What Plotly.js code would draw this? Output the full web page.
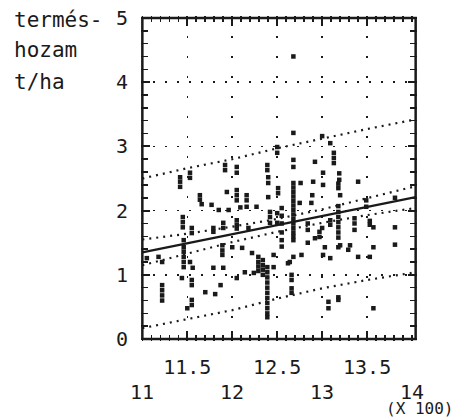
<!DOCTYPE html>
<html>
<head>
<meta charset="utf-8">
<script src="https://cdn.plot.ly/plotly-3.0.1.min.js"></script>
<style>html,body{margin:0;padding:0;background:#fff;}#chart{width:458px;height:419px;}</style>
</head>
<body>
<div id="chart"></div>
<script>
// Scatter observations (x in hundreds, y in t/ha)
var obsX = [12.68,12.68,13.00,13.09,12.50,12.50,13.13,13.13,13.13,11.92,11.92,12.05,12.05,12.39,12.39,12.68,12.68,12.92,
  11.42,11.42,11.42,11.53,11.53,13.01,13.19,13.19,13.40,12.40,12.40,12.90,12.51,12.51,11.94,12.05,12.05,12.05,12.16,12.16,
  11.64,11.64,12.40,
  12.68,12.68,12.68,12.68,12.68,12.68,12.68,12.68,12.68,12.68,12.68,12.68,12.68,12.68,
  12.76,12.89,13.01,13.18,13.18,13.20,11.66,11.77,11.85,11.96,12.09,12.16,12.27,
  11.45,11.45,11.45,11.55,11.55,11.79,11.79,11.90,11.90,12.05,12.05,12.05,12.18,12.42,12.42,12.42,12.50,12.50,
  12.55,12.55,12.55,12.55,12.55,12.55,12.75,12.88,12.84,12.84,13.00,12.97,12.97,13.09,13.09,
  13.18,13.18,13.18,13.18,13.18,13.18,13.18,13.36,13.36,13.36,13.49,13.49,13.53,13.53,13.57,13.81,13.81,13.81,
  13.57,13.53,13.40,13.20,13.29,13.31,13.09,13.01,13.03,13.18,12.92,12.84,12.77,12.68,12.62,12.46,12.46,
  12.29,12.29,12.29,12.29,12.34,12.34,12.34,12.34,
  12.39,12.39,12.39,12.39,12.39,12.39,12.39,12.39,12.39,12.39,12.39,
  11.46,11.46,11.46,11.46,11.46,11.46,11.53,11.56,11.79,11.90,11.89,11.89,11.89,12.00,12.11,12.22,
  11.05,11.18,11.22,11.22,11.22,11.22,11.22,11.44,11.55,11.55,11.55,11.55,11.70,11.81,11.87,12.05,12.14,12.24,
  12.64,12.66,12.66,12.66,12.66,13.07,13.07,13.18,13.18,13.57,11.50];
var obsY = [4.40,3.21,3.16,3.05,2.99,2.90,2.90,2.82,2.74,2.71,2.63,2.68,2.59,2.71,2.63,2.79,2.68,2.76,
  2.52,2.45,2.37,2.59,2.51,2.59,2.58,2.48,2.45,2.52,2.43,2.45,2.35,2.27,2.29,2.32,2.24,2.16,2.24,2.16,
  2.24,2.17,2.21,
  2.43,2.36,2.29,2.22,2.15,2.08,2.01,1.94,1.87,1.80,1.73,1.66,1.60,1.54,
  2.43,2.24,2.40,2.42,2.35,2.24,2.10,2.09,2.01,2.01,2.05,2.06,2.06,
  1.90,1.82,1.74,1.73,1.65,1.73,1.67,1.81,1.73,1.85,1.78,1.72,1.73,1.98,1.90,1.81,1.96,1.81,
  2.04,1.92,1.80,1.66,1.54,1.44,2.12,2.12,1.80,1.70,1.73,1.67,1.59,1.85,1.78,
  2.07,1.98,1.90,1.82,1.74,1.66,1.58,1.88,1.80,1.70,2.16,2.06,1.84,1.78,1.74,2.20,1.74,1.47,
  1.43,1.28,1.28,1.46,1.39,1.46,1.26,1.31,1.43,1.43,1.57,1.50,1.31,1.28,1.18,1.31,1.12,
  1.28,1.20,1.13,1.06,1.23,1.15,1.08,1.00,
  1.12,1.04,0.96,0.88,0.80,0.72,0.64,0.56,0.48,0.40,0.34,
  1.54,1.43,1.36,1.28,1.20,1.12,1.20,1.11,1.11,1.11,1.46,1.38,1.31,1.43,1.42,1.34,
  1.26,1.28,1.20,0.84,0.76,0.68,0.60,0.95,0.92,0.84,0.61,0.53,0.73,0.70,0.84,0.95,1.04,1.03,
  1.20,1.00,0.92,0.79,0.72,0.58,0.48,0.65,0.61,0.48,0.48];

// Fitted line and bands, read at these x positions
var bandX      = [11, 11.5, 12, 12.5, 13, 13.5, 14.04];
var fitY       = [1.35, 1.49, 1.63, 1.78, 1.92, 2.06, 2.21];
var innerUpper = [1.55, 1.64, 1.75, 1.87, 2.02, 2.19, 2.38];
var innerLower = [1.15, 1.33, 1.51, 1.67, 1.81, 1.93, 2.04];
var outerUpper = [2.50, 2.66, 2.80, 2.97, 3.12, 3.27, 3.42];
var outerLower = [0.17, 0.31, 0.45, 0.63, 0.79, 0.92, 1.04];

// Tick labels
var xTickTop = [11.5, 12, 12.5, 13, 13.5];
var xTickTopText = ['11.5', '', '12.5', '', '13.5'];
var xTickLow = [11, 12, 13, 14];
var xTickLowText = ['11', '12', '13', '14'];
var yTicks = [0, 1, 2, 3, 4, 5];
var yTickText = ['0', '1', '2', '3', '4', '5'];

// Frame extent (data units) and a small pad so the frame sits just inside the plot area
var frameX = [11, 14.04];
var frameY = [0, 5];
var padX = 0.015, padY = 0.03;

var FONT = 'DejaVu Sans Mono, Liberation Mono, monospace';
var INK = '#1a1a1a';

function dotted(y) {
  return {x: bandX, y: y, mode: 'lines', type: 'scatter', hoverinfo: 'skip',
    line: {color: INK, width: 2.2, dash: '2px,5px'}, showlegend: false};
}

var traces = [
  dotted(outerUpper), dotted(outerLower), dotted(innerUpper), dotted(innerLower),
  {x: bandX, y: fitY, mode: 'lines', type: 'scatter', line: {color: INK, width: 2.2}, showlegend: false},
  {x: obsX, y: obsY, mode: 'markers', type: 'scatter', showlegend: false,
   marker: {symbol: 'square', size: 4.5, color: INK, line: {width: 0}}},
  {x: [frameX[0], frameX[1], frameX[1], frameX[0], frameX[0]],
   y: [frameY[0], frameY[0], frameY[1], frameY[1], frameY[0]],
   mode: 'lines', type: 'scatter', hoverinfo: 'skip', showlegend: false,
   line: {color: INK, width: 2.5}}
];

// plot area spans x 141..417, y 16..341 in page pixels
function px(p) { return (p - 141) / 276; }
function py(p) { return (341 - p) / 325; }

var annotations = [
  {xref: 'paper', yref: 'paper', x: px(12), y: py(20), xanchor: 'left', yanchor: 'middle',
   text: 'termés-', showarrow: false, font: {family: FONT, size: 21, color: INK}},
  {xref: 'paper', yref: 'paper', x: px(12), y: py(50), xanchor: 'left', yanchor: 'middle',
   text: 'hozam', showarrow: false, font: {family: FONT, size: 21, color: INK}},
  {xref: 'paper', yref: 'paper', x: px(12), y: py(82), xanchor: 'left', yanchor: 'middle',
   text: 't/ha', showarrow: false, font: {family: FONT, size: 21, color: INK}},
  {xref: 'paper', yref: 'paper', x: px(455), y: py(409), xanchor: 'right', yanchor: 'middle',
   text: '(X 100)', showarrow: false, font: {family: FONT, size: 16, color: INK}}
];
xTickLow.forEach(function (v, i) {
  annotations.push({xref: 'x', yref: 'paper', x: v, y: py(392), xanchor: 'center', yanchor: 'middle',
    text: xTickLowText[i], showarrow: false, font: {family: FONT, size: 20, color: INK}});
});

var layout = {
  width: 458, height: 419,
  margin: {l: 141, r: 41, t: 16, b: 78},
  paper_bgcolor: '#fff', plot_bgcolor: '#fff',
  font: {family: FONT, size: 20, color: INK},
  showlegend: false,
  xaxis: {
    range: [frameX[0] - padX, frameX[1] + padX], tickmode: 'array', tickvals: xTickTop, ticktext: xTickTopText,
    ticks: 'inside', ticklen: 10, tickwidth: 2, tickcolor: INK,
    minor: {ticks: 'inside', dtick: 0.1, ticklen: 6, tickwidth: 1.6, tickcolor: INK, showgrid: false},
    showline: false, mirror: 'allticks',
    showgrid: true, gridcolor: INK, gridwidth: 1.6, griddash: '2px,18px',
    zeroline: false, ticklabelstandoff: 12, tickfont: {family: FONT, size: 20, color: INK}
  },
  yaxis: {
    range: [frameY[0] - padY, frameY[1] + padY], tickmode: 'array', tickvals: yTicks, ticktext: yTickText,
    ticks: 'inside', ticklen: 9, tickwidth: 2, tickcolor: INK,
    minor: {ticks: 'inside', dtick: 0.2, ticklen: 7, tickwidth: 1.6, tickcolor: INK, showgrid: false},
    showline: false, mirror: 'allticks',
    showgrid: true, gridcolor: INK, gridwidth: 1.6, griddash: '2px,10px',
    zeroline: false, ticklabelstandoff: 12, tickfont: {family: FONT, size: 20, color: INK}
  },
  annotations: annotations
};

Plotly.newPlot('chart', traces, layout, {staticPlot: true, displayModeBar: false});
</script>
</body>
</html>
